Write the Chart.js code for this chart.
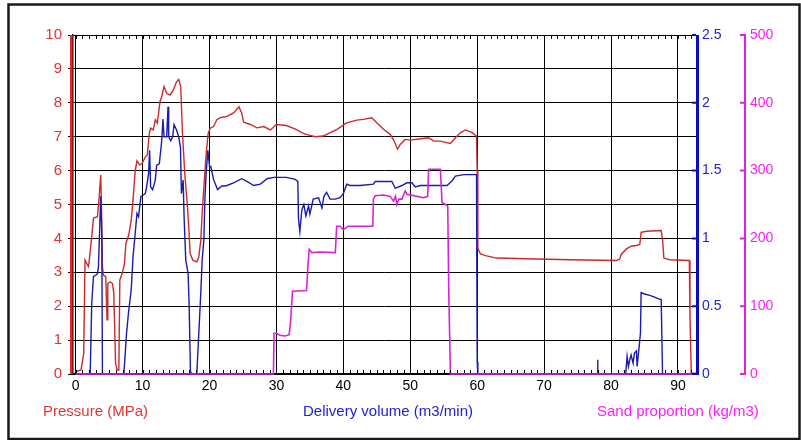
<!DOCTYPE html>
<html>
<head>
<meta charset="utf-8">
<script src="https://cdn.jsdelivr.net/npm/chart.js@4.4.1/dist/chart.umd.min.js"></script>
<style>
  html, body { margin: 0; padding: 0; background: #fff; }
  #wrap { width: 801px; height: 440px; }
</style>
</head>
<body>
<div id="wrap"><canvas id="myChart" width="801" height="440"></canvas></div>
<script>
// time axis (min) and readings
var xTicks = [0, 10, 20, 30, 40, 50, 60, 70, 80, 90];

var pressureT = [0, 0.8, 1.2, 1.4, 1.9, 2.0, 2.4, 2.66, 3.25, 3.5, 3.74, 3.84, 4.0, 4.14, 4.5, 4.63, 4.7, 4.8, 5.2, 5.5,
  5.7, 5.96, 6.2, 6.45, 6.6, 6.95, 7.3, 7.5, 7.93, 8.3, 8.57, 8.9, 9.16, 9.56, 9.9, 10.4, 10.7, 11.0, 11.2, 11.6,
  11.9, 12.2, 12.6, 12.86, 13.2, 13.6, 14.1, 14.6, 15.07, 15.4, 15.7, 15.96, 16.3, 16.7, 16.95, 17.1, 17.5, 18.1, 18.4, 18.7,
  18.9, 19.16, 19.5, 19.8, 20.1, 20.6, 21.1, 21.6, 22.6, 23.6, 24.4, 24.8, 25.1, 26.1, 27.1, 28.1, 29.1, 30, 31.5, 33.0,
  34.0, 35.0, 35.8, 37.0, 37.8, 39.0, 40.5, 42.0, 43, 44.25, 45, 46, 47, 47.6, 48.1, 48.5, 49.25, 50, 51.5, 52.75,
  53.5, 54.5, 56, 56.75, 57.5, 58.25, 59.25, 59.9, 60.0, 60.1, 60.5, 61.25, 62.9, 67.4, 73.8, 80.8, 81.3, 81.5, 82.3, 83.0,
  83.8, 84.3, 84.5, 85.3, 87.5, 87.7, 87.9, 88.75, 91.7, 91.8, 92.0, 92.7];
var pressureV = [0.07, 0.12, 0.6, 3.36, 3.17, 3.3, 4.05, 4.6, 4.64, 5.2, 5.87, 5.13, 3.17, 2.92, 2.87, 1.94, 1.6, 2.67, 2.72, 2.67,
  2.38, 0.31, 0.12, 0.12, 2.77, 2.97, 3.26, 3.85, 4.1, 4.54, 5.13, 6.0, 6.29, 6.17, 6.2, 6.4, 6.46, 7.1, 7.25, 7.2,
  7.5, 7.4, 8.03, 8.18, 8.48, 8.28, 8.23, 8.38, 8.62, 8.69, 8.48, 7.1, 5.92, 4.94, 4.15, 3.56, 3.36, 3.31, 3.46, 3.95,
  4.74, 5.53, 6.5, 7.1, 7.25, 7.3, 7.5, 7.56, 7.6, 7.7, 7.88, 7.7, 7.43, 7.36, 7.26, 7.3, 7.2, 7.36, 7.33, 7.21,
  7.1, 7.04, 7.0, 7.02, 7.1, 7.21, 7.41, 7.49, 7.51, 7.56, 7.41, 7.22, 7.07, 6.87, 6.63, 6.77, 6.92, 6.9, 6.94, 6.97,
  6.87, 6.87, 6.8, 6.97, 7.12, 7.2, 7.12, 7.02, 6.0, 3.7, 3.54, 3.49, 3.42, 3.40, 3.37, 3.35, 3.39, 3.52, 3.69, 3.77,
  3.79, 3.82, 4.18, 4.21, 4.23, 3.97, 3.42, 3.37, 3.35, 1.7, 0.02, 0.02];

var volumeT = [0, 2.17, 2.4, 2.66, 3.05, 3.25, 3.4, 3.6, 3.74, 3.9, 4.0, 7.2, 7.6, 7.93, 8.3, 8.57, 8.9, 9.16, 9.4, 9.75,
  10.1, 10.4, 10.6, 10.9, 11.05, 11.2, 11.5, 11.9, 12.1, 12.5, 12.86, 13.05, 13.2, 13.6, 13.8, 13.9, 14.2, 14.5, 14.7, 15.07,
  15.4, 15.66, 15.8, 16.06, 16.2, 16.45, 16.8, 16.95, 17.15, 17.4, 18.1, 18.4, 18.7, 18.9, 19.16, 19.3, 19.5, 19.75, 20.0, 20.2,
  20.6, 21.2, 21.8, 22.6, 23.6, 24.8, 25.6, 26.6, 27.6, 28.6, 29.6, 31.5, 32.8, 33.2, 33.3, 33.5, 33.8, 34.1, 34.4, 34.8,
  35.0, 35.5, 36.3, 36.8, 37.1, 37.5, 38.0, 38.8, 39.5, 40.0, 40.5, 41.0, 42.5, 44.5, 44.75, 47.25, 47.75, 48.0, 48.75, 49.5,
  50.25, 50.75, 51.5, 55.5, 56.25, 56.75, 58.0, 59.9, 60.0, 60.1, 77.95, 78.0, 78.05, 82.2, 82.4, 82.6, 82.8, 83.0, 83.3, 83.5,
  83.8, 83.9, 84.2, 84.4, 84.5, 85.0, 85.8, 86.6, 87.3, 87.5, 87.7, 92.7];
var volumeV = [0, 0, 0.52, 0.72, 0.73, 0.74, 0.79, 1.09, 1.31, 1.04, 0, 0, 0.30, 0.47, 0.62, 0.865, 1.04, 1.185, 1.16, 1.31,
  1.32, 1.33, 1.38, 1.48, 1.65, 1.38, 1.36, 1.43, 1.54, 1.55, 1.72, 1.88, 1.75, 1.75, 1.97, 1.75, 1.72, 1.75, 1.84, 1.8,
  1.75, 1.67, 1.33, 1.43, 1.16, 0.84, 0.74, 0.52, 0.02, 0, 0, 0.3, 0.6, 0.84, 0.99, 1.28, 1.48, 1.65, 1.53, 1.53,
  1.435, 1.36, 1.385, 1.39, 1.41, 1.44, 1.42, 1.39, 1.40, 1.44, 1.45, 1.45, 1.435, 1.42, 1.14, 1.05, 1.21, 1.25, 1.165, 1.24,
  1.18, 1.29, 1.30, 1.225, 1.31, 1.34, 1.29, 1.29, 1.30, 1.33, 1.40, 1.39, 1.39, 1.40, 1.42, 1.42, 1.37, 1.375, 1.39, 1.41,
  1.41, 1.38, 1.39, 1.39, 1.425, 1.46, 1.47, 1.47, 0.09, 0, 0, 0.105, 0, 0, 0.13, 0.055, 0.105, 0.14, 0.08, 0.155,
  0.17, 0.055, 0.2, 0.3, 0.6, 0.59, 0.58, 0.565, 0.55, 0.55, 0, 0];

var sandT = [0, 29.55, 29.65, 30.05, 30.5, 31.3, 31.9, 32.1, 32.4, 34.5, 34.7, 34.9, 35.3, 36.5, 38.8, 39.0, 39.5, 40.0, 40.7, 44.4,
  44.5, 44.75, 46, 47, 47.5, 47.8, 48.0, 48.3, 48.75, 49.25, 49.5, 51.0, 52.0, 52.6, 52.75, 54.5, 54.75, 55.25, 55.6, 55.75,
  56.0, 92.7];
var sandV = [0, 0, 60, 60, 57, 56, 58, 75, 122, 123, 159, 184, 179, 180, 179, 218, 218, 213, 218, 218,
  258, 263, 264, 262, 255, 262, 250, 258, 258, 270, 265, 262, 260, 262, 302, 302, 253, 250, 248, 125,
  0, 0];

var axisTitles = ['Pressure (MPa)', 'Delivery volume (m3/min)', 'Sand proportion (kg/m3)'];

function pts(xs, ys) {
  return xs.map((x, i) => ({ x: x, y: ys[i] }));
}

Chart.defaults.font.family = '"Liberation Sans", Arial, sans-serif';

// axis bars, inner ticks, bottom captions and the outer frame
var decor = {
  id: 'decor',
  afterDraw(chart) {
    var ctx = chart.ctx, a = chart.chartArea;
    var sx = chart.scales.x, sq = chart.scales.yQ, ss = chart.scales.yS;
    ctx.save();

    ctx.strokeStyle = '#000';
    ctx.lineWidth = 1;
    ctx.beginPath();
    for (var v = 0; v <= 92; v++) {
      var px = Math.round(sx.getPixelForValue(v)) + 0.5;
      ctx.moveTo(px, a.bottom - 1);
      ctx.lineTo(px, a.bottom - 4);
      ctx.moveTo(px, a.top);
      ctx.lineTo(px, a.top + 4);
    }
    ctx.stroke();

    ctx.fillStyle = '#e02a2a';
    ctx.fillRect(a.left - 3, a.top, 2.6, a.bottom - a.top);

    ctx.fillStyle = '#0b0bc4';
    ctx.fillRect(a.right, a.top, 3, a.bottom - a.top + 1);
    ctx.strokeStyle = '#0b0bc4';
    ctx.lineWidth = 2;
    ctx.beginPath();
    sq.ticks.forEach(t => {
      var py = sq.getPixelForValue(t.value);
      ctx.moveTo(a.right - 4, py);
      ctx.lineTo(a.right, py);
    });
    ctx.stroke();

    ctx.strokeStyle = '#e020e0';
    ctx.beginPath();
    ss.ticks.forEach(t => {
      var py = ss.getPixelForValue(t.value);
      ctx.moveTo(ss.left - 5, py);
      ctx.lineTo(ss.left, py);
    });
    ctx.stroke();

    ctx.font = '15px "Liberation Sans", Arial, sans-serif';
    ctx.textBaseline = 'alphabetic';
    ctx.fillStyle = '#e03535';
    ctx.fillText(axisTitles[0], 43, 416);
    ctx.fillStyle = '#2020d8';
    ctx.fillText(axisTitles[1], 303, 416);
    ctx.fillStyle = '#ff1aff';
    ctx.fillText(axisTitles[2], 597, 416);

    ctx.strokeStyle = '#1a1a1a';
    ctx.lineWidth = 2.5;
    ctx.strokeRect(8.5, 4.5, 791, 434.5);
    ctx.restore();
  }
};

new Chart('myChart', {
  type: 'line',
  data: {
    datasets: [{
      label: 'Sand proportion',
      data: pts(sandT, sandV),
      yAxisID: 'yS',
      borderColor: '#d824d8',
      borderWidth: 1.6,
      clip: false
    }, {
      label: 'Delivery volume',
      data: pts(volumeT, volumeV),
      yAxisID: 'yQ',
      borderColor: '#1b1bb0',
      borderWidth: 1.4,
      clip: false
    }, {
      label: 'Pressure',
      data: pts(pressureT, pressureV),
      yAxisID: 'yP',
      borderColor: '#c92c2c',
      borderWidth: 1.4,
      clip: false
    }]
  },
  options: {
    responsive: false,
    animation: false,
    devicePixelRatio: 1,
    layout: { padding: { left: 0, right: 0, top: 35, bottom: 0 } },
    elements: { point: { radius: 0 }, line: { tension: 0 } },
    plugins: { legend: { display: false }, tooltip: { enabled: false } },
    scales: {
      x: {
        type: 'linear',
        min: -0.4,
        max: 92.7,
        afterBuildTicks: s => { s.ticks = xTicks.map(v => ({ value: v })); },
        afterFit: s => { s.height = 66; },
        grid: { color: '#000', lineWidth: 1, drawTicks: false },
        border: { color: '#000', width: 1.5 },
        ticks: { color: '#000', font: { size: 14 }, padding: 4, maxRotation: 0, autoSkip: false }
      },
      yP: {
        position: 'left',
        min: 0,
        max: 10,
        afterFit: s => { s.width = 73; },
        grid: { color: '#000', lineWidth: 1, tickColor: '#000', tickLength: 5 },
        border: { color: '#000', width: 1.5 },
        ticks: { stepSize: 1, color: '#dd3333', font: { size: 15 }, padding: 6 }
      },
      yQ: {
        position: 'right',
        weight: 0,
        min: 0,
        max: 2.5,
        afterFit: s => { s.width = 49; },
        grid: { display: false, drawTicks: false },
        border: { display: false },
        ticks: { stepSize: 0.5, color: '#2323d8', font: { size: 14 }, padding: 6, callback: v => String(v) }
      },
      yS: {
        position: 'right',
        weight: 1,
        min: 0,
        max: 500,
        afterFit: s => { s.width = 56; },
        grid: { display: false, drawTicks: false },
        border: { color: '#e020e0', width: 2 },
        ticks: { stepSize: 100, color: '#ff1aff', font: { size: 14 }, padding: 5 }
      }
    }
  },
  plugins: [decor]
});
</script>
</body>
</html>
